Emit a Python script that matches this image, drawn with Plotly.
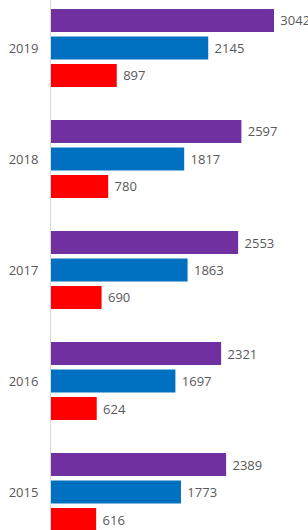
import plotly.graph_objects as go

years = ["2015", "2016", "2017", "2018", "2019"]
total = [2389, 2321, 2553, 2597, 3042]
series_b = [1773, 1697, 1863, 1817, 2145]
series_c = [616, 624, 690, 780, 897]

font = dict(family="Open Sans, Noto Sans, sans-serif", size=13, color="#595959")

fig = go.Figure()
for vals, col in [(series_c, "#FF0000"), (series_b, "#0070C0"), (total, "#7030A0")]:
    fig.add_trace(go.Bar(
        y=years, x=vals, orientation="h",
        marker=dict(color=col, line=dict(width=0)),
        text=[" " + str(v) for v in vals], textposition="outside",
        textfont=font, constraintext="none", cliponaxis=True,
        showlegend=False, hoverinfo="skip",
    ))

fig.update_layout(
    width=308, height=530,
    margin=dict(l=51, r=0, t=0, b=0, autoexpand=False),
    paper_bgcolor="white", plot_bgcolor="white",
    barmode="group", bargap=0.257, bargroupgap=0.16,
    xaxis=dict(range=[0, 3506], showgrid=False, zeroline=False,
               showticklabels=False, showline=False, automargin=False),
    yaxis=dict(type="category", range=[-0.342, 4.432], showgrid=False,
               zeroline=False, showline=True, linecolor="#d9d9d9", linewidth=1,
               ticks="", tickfont=font, ticklabelstandoff=9, automargin=False),
    font=font,
)

fig.write_html("out.html", config={"displayModeBar": False},
               post_script="document.body.style.margin='0';document.body.style.overflow='hidden';")
